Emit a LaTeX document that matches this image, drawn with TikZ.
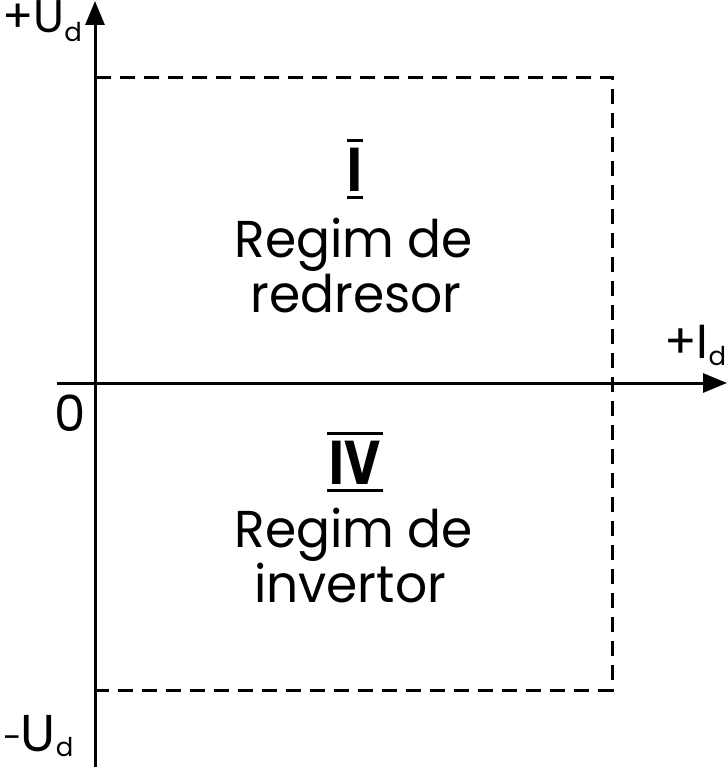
\documentclass[tikz,border=0pt]{standalone}
\usepackage{fontspec}
\setmainfont{Poppins}
\newfontfamily\bodyfont[FakeStretch=0.97]{Poppins}
\newfontfamily\romanfont[FakeStretch=0.8]{Poppins}
\usetikzlibrary{arrows.meta}
\tikzset{
  axis/.style={line width=3bp, -{Triangle[length=24bp,width=19bp]}},
  dashline/.style={line width=3bp, dash pattern=on 15bp off 9bp},
  bar/.style={line width=3bp},
  txt/.style={inner sep=0pt, anchor=base, font=\bodyfont\fontsize{52}{52}\selectfont},
  lbl/.style={inner sep=0pt, anchor=base west},
  roman/.style={inner sep=0pt, anchor=base, font=\romanfont\bfseries\fontsize{62}{62}\selectfont}
}
\newcommand{\subd}[1]{{\fontsize{#1}{#1}\selectfont d}}
\begin{document}
\begin{tikzpicture}[x=1bp,y=-1bp]
\useasboundingbox (0,0) rectangle (728,767);
\coordinate (yb) at (95,767);
\coordinate (yt) at (95,1);
\coordinate (xl) at (57,383);
\coordinate (xr) at (727,383);
\coordinate (tl) at (96,77);
\coordinate (tr) at (612,77);
\coordinate (br) at (612,690);
\coordinate (bl) at (96,690);
\draw[dashline] (tl) -- (tr) -- (br) -- (bl);
\draw[axis] (yb) -- (yt);
\draw[axis] (xl) -- (xr);
% roman numerals
\node[roman] (r1) at (355,191) {I};
\draw[bar] ([xshift=-8bp,yshift=7bp]r1.north) -- ([xshift=8bp,yshift=7bp]r1.north);
\draw[bar] ([xshift=-8bp,yshift=-6bp]r1.base) -- ([xshift=8bp,yshift=-6bp]r1.base);
\node[roman] (r4) at (355,484) {IV};
\draw[bar] ([xshift=-2bp,yshift=7bp]r4.north west) -- ([xshift=2bp,yshift=7bp]r4.north east);
\draw[bar] ([xshift=-2bp,yshift=-6bp]r4.base west) -- ([xshift=2bp,yshift=-6bp]r4.base east);
% texts
\node[txt] (t1) at (354,257) {Regim de};
\node[txt] (t2) at (356,312) {redresor};
\node[txt] (t3) at (354,547) {Regim de};
\node[txt] (t4) at (350,602) {invertor};
% labels
\node[lbl, font=\fontsize{46}{46}\selectfont] (lu) at (2,33) {+U\raisebox{-9bp}{\subd{26}}};
\node[lbl, font=\fontsize{48}{48}\selectfont] (li) at (664,358) {+I\raisebox{-7bp}{\subd{26}}};
\node[lbl, font=\fontsize{50}{50}\selectfont] (l0) at (54,431) {0};
\node[lbl, font=\fontsize{52}{52}\selectfont] (lm) at (3,751) {\raisebox{2bp}{\fontsize{34}{34}\selectfont -}\hspace{-1bp}U\raisebox{-5bp}{\subd{26}}};
\end{tikzpicture}
\end{document}
